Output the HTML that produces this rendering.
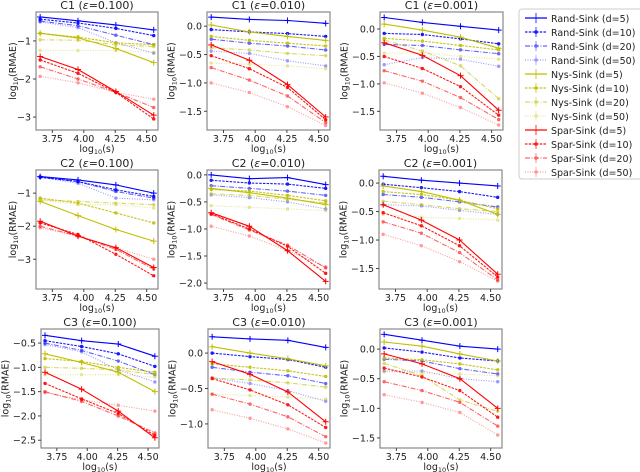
<!DOCTYPE html>
<html><head><meta charset="utf-8">
<style>
html,body{margin:0;padding:0;background:#fff;}
svg{display:block;font-family:"DejaVu Sans","Liberation Sans",sans-serif;}
</style></head>
<body>
<svg id="fig" width="640" height="472" viewBox="0 0 640 472" xmlns="http://www.w3.org/2000/svg"></svg>
<script>
// x positions (log10(s)) shared by all panels
const xValues = [3.653, 3.954, 4.255, 4.556];
const xTicks = [3.75, 4.00, 4.25, 4.50];
const xTickLabels = ["3.75", "4.00", "4.25", "4.50"];
const seriesNames = ["Rand-Sink (d=5)","Rand-Sink (d=10)","Rand-Sink (d=20)","Rand-Sink (d=50)",
  "Nys-Sink (d=5)","Nys-Sink (d=10)","Nys-Sink (d=20)","Nys-Sink (d=50)",
  "Spar-Sink (d=5)","Spar-Sink (d=10)","Spar-Sink (d=20)","Spar-Sink (d=50)"];
const panelTitles = ["C1","C1","C1","C2","C2","C2","C3","C3","C3"];
const panelEps = ["0.100","0.010","0.001","0.100","0.010","0.001","0.100","0.010","0.001"];

// values per panel: rows = 12 series (in seriesNames order)
const dataC1e100 = [
 [-0.37,-0.47,-0.58,-0.71],[-0.43,-0.53,-0.67,-0.86],[-0.48,-0.60,-0.85,-1.10],[-0.50,-0.65,-1.05,-1.32],
 [-0.80,-0.92,-1.20,-1.57],[-0.80,-0.90,-1.05,-1.10],[-0.97,-0.98,-1.10,-1.15],[-1.25,-1.25,-1.25,-1.30],
 [-1.41,-1.75,-2.33,-2.95],[-1.50,-1.85,-2.35,-3.05],[-1.68,-2.00,-2.35,-2.75],[-1.93,-2.10,-2.35,-2.53]];
const dataC1e010 = [
 [0.16,0.12,0.10,0.05],[-0.06,-0.10,-0.13,-0.18],[-0.23,-0.30,-0.35,-0.42],[-0.44,-0.48,-0.61,-0.70],
 [0.02,-0.10,-0.18,-0.25],[-0.18,-0.25,-0.30,-0.35],[-0.38,-0.42,-0.48,-0.52],[-0.65,-0.67,-0.70,-0.75],
 [-0.33,-0.60,-1.03,-1.60],[-0.52,-0.75,-1.08,-1.65],[-0.73,-0.95,-1.23,-1.70],[-1.00,-1.17,-1.42,-1.75]];
const dataC1e001 = [
 [0.21,0.12,0.05,-0.02],[-0.08,-0.10,-0.18,-0.27],[-0.28,-0.30,-0.38,-0.45],[-0.65,-0.52,-0.55,-0.68],
 [0.09,-0.02,-0.15,-0.35],[-0.17,-0.22,-0.30,-0.38],[-0.20,-0.40,-0.67,-1.27],[-0.44,-0.43,-0.50,-0.55],
 [-0.25,-0.48,-0.85,-1.48],[-0.50,-0.72,-1.05,-1.57],[-0.76,-0.95,-1.25,-1.65],[-0.98,-1.17,-1.43,-1.75]];
const dataC2e100 = [
 [-0.50,-0.60,-0.75,-1.00],[-0.52,-0.65,-0.90,-1.10],[-0.50,-0.65,-0.95,-1.15],[-0.52,-0.70,-1.15,-1.20],
 [-1.25,-1.68,-2.10,-2.45],[-1.15,-1.30,-1.60,-1.90],[-1.20,-1.25,-1.30,-1.35],[-1.20,-1.35,-1.35,-1.45],
 [-1.85,-2.30,-2.65,-3.25],[-1.90,-2.25,-2.85,-3.50],[-2.00,-2.30,-2.70,-3.30],[-2.05,-2.30,-2.65,-3.00]];
const dataC2e010 = [
 [0.00,-0.07,-0.05,-0.18],[-0.10,-0.15,-0.17,-0.25],[-0.20,-0.25,-0.30,-0.38],[-0.37,-0.42,-0.50,-0.63],
 [-0.25,-0.33,-0.43,-0.55],[-0.27,-0.30,-0.38,-0.48],[-0.35,-0.38,-0.45,-0.52],[-0.57,-0.60,-0.63,-0.66],
 [-0.70,-0.95,-1.40,-1.97],[-0.72,-1.00,-1.32,-1.82],[-0.73,-1.02,-1.30,-1.72],[-0.95,-1.13,-1.40,-1.70]];
const dataC2e001 = [
 [0.12,0.05,0.00,-0.05],[-0.02,-0.08,-0.15,-0.25],[-0.20,-0.25,-0.33,-0.42],[-0.38,-0.40,-0.48,-0.55],
 [-0.05,-0.15,-0.30,-0.55],[-0.15,-0.20,-0.30,-0.45],[-0.32,-0.38,-0.45,-0.50],[-0.55,-0.60,-0.62,-0.65],
 [-0.38,-0.65,-1.00,-1.60],[-0.52,-0.75,-1.10,-1.65],[-0.68,-0.88,-1.22,-1.70],[-0.90,-1.10,-1.38,-1.72]];
const dataC3e100 = [
 [-0.34,-0.45,-0.52,-0.77],[-0.45,-0.57,-0.72,-0.98],[-0.50,-0.65,-0.87,-1.15],[-0.53,-0.68,-1.05,-1.30],
 [-0.72,-0.90,-1.10,-1.50],[-0.82,-0.88,-1.00,-1.10],[-1.00,-1.02,-1.05,-1.15],[-1.15,-1.15,-1.15,-1.20],
 [-1.10,-1.45,-1.90,-2.45],[-1.33,-1.65,-1.95,-2.40],[-1.50,-1.70,-2.00,-2.35],[-1.52,-1.67,-1.78,-1.90]];
const dataC3e010 = [
 [0.23,0.20,0.18,0.08],[0.00,-0.05,-0.09,-0.20],[-0.20,-0.27,-0.32,-0.43],[-0.35,-0.43,-0.53,-0.68],
 [0.09,0.00,-0.08,-0.18],[-0.15,-0.20,-0.25,-0.33],[-0.35,-0.38,-0.42,-0.48],[-0.58,-0.60,-0.62,-0.65],
 [-0.12,-0.30,-0.55,-0.97],[-0.36,-0.52,-0.73,-1.05],[-0.58,-0.72,-0.90,-1.18],[-0.80,-0.92,-1.07,-1.27]];
const dataC3e001 = [
 [0.25,0.15,0.05,0.00],[0.02,-0.05,-0.15,-0.20],[-0.17,-0.20,-0.33,-0.42],[-0.37,-0.37,-0.50,-0.55],
 [0.12,0.05,-0.08,-0.20],[-0.15,-0.18,-0.25,-0.35],[-0.24,-0.45,-0.86,-1.05],[-0.38,-0.40,-0.42,-0.45],
 [-0.08,-0.25,-0.50,-1.00],[-0.32,-0.47,-0.70,-1.15],[-0.55,-0.70,-0.90,-1.30],[-0.77,-0.90,-1.07,-1.45]];
const panelData = [dataC1e100,dataC1e010,dataC1e001,dataC2e100,dataC2e010,dataC2e001,dataC3e100,dataC3e010,dataC3e001];

const yTicksP = [[-1,-2,-3],[0,-0.5,-1,-1.5],[0,-0.5,-1,-1.5],[-1,-2,-3],[0,-0.5,-1,-1.5,-2],[0,-0.5,-1,-1.5],[-0.5,-1,-1.5,-2,-2.5],[0,-0.5,-1],[0,-0.5,-1,-1.5]];
const yTickDecimals = [0,1,1,0,1,1,1,1,1];

// layout (pixels / limits)
const boxes = [[36,12,158,130],[207,12,330,130],[380,12,503,130],
               [36,170,158,289],[207,170,330,289],[379,170,502,289],
               [41,329,159,448],[208,329,330,448],[380,329,502,448]];
const yLims = [[-3.34,-0.24],[-1.83,0.25],[-1.84,0.31],[-3.9,-0.3],[-2.11,0.09],[-1.86,0.23],[-2.66,-0.21],[-1.34,0.34],[-1.67,0.34]];
const xLim = [3.62, 4.59];

const NS='http://www.w3.org/2000/svg';
const svg=document.getElementById('fig');
function mk(tag,attrs,parent){const e=document.createElementNS(NS,tag);for(const k in attrs)e.setAttribute(k,attrs[k]);(parent||svg).appendChild(e);return e;}
const colors=['#0000ff','#0000ff','#0000ff','#0000ff','#bfbf00','#bfbf00','#bfbf00','#bfbf00','#ff0000','#ff0000','#ff0000','#ff0000'];
const dashes=['none','2.5,1.2','5,1.5,1,1.5','1,1.5'];
const alphas=[1,0.9,0.6,0.4];
function fmt(v,d){return (v<0?'\u2212':'')+Math.abs(v).toFixed(d);}

panelData.forEach((data,p)=>{
  const [x0,y0,x1,y1]=boxes[p];
  const [ymin,ymax]=yLims[p];
  const sx=v=>x0+(v-xLim[0])/(xLim[1]-xLim[0])*(x1-x0);
  const sy=v=>y1-(v-ymin)/(ymax-ymin)*(y1-y0);
  const g=mk('g',{});
  
  
  const t=mk('text',{x:(x0+x1)/2,y:y0-3,'text-anchor':'middle','font-size':'11',fill:'#222'},g);
  
  
  t.innerHTML=panelTitles[p]+' (<tspan font-style="italic">\u03b5</tspan>='+panelEps[p]+')';
  data.forEach((vals,s)=>{
    const k=s%4;
    const sg=mk('g',{opacity:alphas[k]},g);
    
    
    const pts=vals.map((v,i)=>sx(xValues[i]).toFixed(1)+','+sy(v).toFixed(1)).join(' ');
    const pl=mk('polyline',{points:pts,fill:'none',stroke:colors[s],'stroke-width':1.1,'stroke-dasharray':dashes[k]},sg);
    
    
    vals.forEach((v,i)=>{
      const cx=sx(xValues[i]),cy=sy(v);
      if(k===0){
        const m=mk('path',{d:`M${cx-3},${cy}H${cx+3}M${cx},${cy-3}V${cy+3}`,stroke:colors[s],'stroke-width':1},sg);
        
        
      } else {
        const m=mk('circle',{cx:cx,cy:cy,r:1.7,fill:colors[s]},sg);
        
        
      }
    });
  });
  const fr=mk('rect',{x:x0,y:y0,width:x1-x0,height:y1-y0,fill:'none',stroke:'#888','stroke-width':1.2},g);
  
  
  xTicks.forEach((v,i)=>{
    const x=sx(v);
    mk('line',{x1:x,x2:x,y1:y1,y2:y1+3,stroke:'#444'},g);
    const tl=mk('text',{x:x,y:y1+12,'text-anchor':'middle','font-size':'9.5',fill:'#222'},g);
    
    
    tl.textContent=xTickLabels[i];
  });
  let maxLen=0;
  yTicksP[p].forEach(v=>{
    const y=sy(v);
    mk('line',{x1:x0-3,x2:x0,y1:y,y2:y,stroke:'#444'},g);
    const tl=mk('text',{x:x0-5,y:y+3.5,'text-anchor':'end','font-size':'9.5',fill:'#222'},g);
    
    
    const s=fmt(v,yTickDecimals[p]);
    tl.textContent=s;
    maxLen=Math.max(maxLen,s.length);
  });
  const xl=mk('text',{x:(x0+x1)/2,y:y1+22,'text-anchor':'middle','font-size':'9.5',fill:'#222'},g);
  
  
  xl.innerHTML='log<tspan font-size="6.5" dy="2">10</tspan><tspan dy="-2">(s)</tspan>';
  const lx=x0-8-maxLen*6.1, ly=(y0+y1)/2;
  const yl=mk('text',{x:lx,y:ly,'text-anchor':'middle','font-size':'9.5',fill:'#222',transform:`rotate(-90 ${lx} ${ly})`},g);
  
  
  yl.innerHTML='log<tspan font-size="6.5" dy="2">10</tspan><tspan dy="-2">(RMAE)</tspan>';
});

// legend
const lg=mk('g',{});


const lr=mk('rect',{x:519,y:9,width:126,height:170,rx:3,fill:'#fff',stroke:'#ccc'},lg);


seriesNames.forEach((n,s)=>{
  const k=s%4, y=18+s*14;
  const eg=mk('g',{opacity:alphas[k]},lg);
  
  
  mk('line',{x1:525,x2:547,y1:y,y2:y,stroke:colors[s],'stroke-width':1.2,'stroke-dasharray':dashes[k]},eg);
  mk('line',{x1:536,x2:536,y1:y-5,y2:y+5,stroke:colors[s],'stroke-width':0.8},eg);
  if(k>0) mk('circle',{cx:536,cy:y,r:1.8,fill:colors[s]},eg);
  const tx=mk('text',{x:551,y:y+4,'font-size':'9.5',fill:'#222'},lg);
  
  
  tx.textContent=n;
});
</script>
</body></html>
